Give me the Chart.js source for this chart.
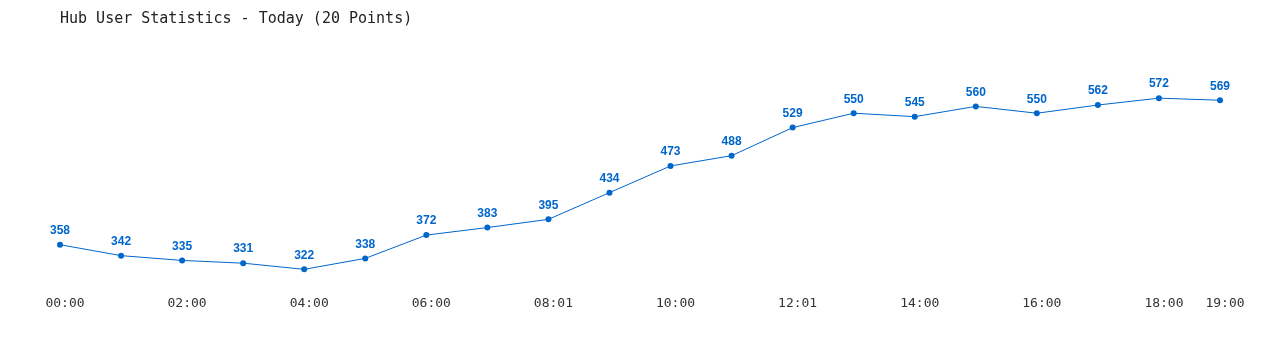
<!DOCTYPE html>
<html>
<head>
<meta charset="utf-8">
<script src="https://cdn.jsdelivr.net/npm/chart.js@4/dist/chart.umd.min.js"></script>
<style>
html,body{margin:0;padding:0;background:#fff;}
#wrap{width:1280px;height:350px;position:relative;}
</style>
</head>
<body>
<div id="wrap"><canvas id="c" width="1280" height="350"></canvas></div>
<script>
const titleText = 'Hub User Statistics - Today (20 Points)';
const categories = ['00:00','01:00','02:00','03:00','04:00','05:00','06:00','07:00','08:01','09:00',
                    '10:00','11:00','12:01','13:00','14:00','15:00','16:00','17:00','18:00','19:00'];
const users = [358,342,335,331,322,338,372,383,395,434,473,488,529,550,545,560,550,562,572,569];

const lineColor = '#0066CC';

const valueLabels = {
  id: 'valueLabels',
  afterDatasetsDraw(chart) {
    const ctx = chart.ctx;
    const meta = chart.getDatasetMeta(0);
    ctx.save();
    ctx.font = 'bold 12px "Liberation Sans", Arial, sans-serif';
    ctx.fillStyle = lineColor;
    ctx.textAlign = 'center';
    ctx.textBaseline = 'middle';
    meta.data.forEach((pt, i) => {
      ctx.fillText(String(chart.data.datasets[0].data[i]), pt.x, pt.y - 14);
    });
    ctx.restore();
  }
};

new Chart(document.getElementById('c'), {
  type: 'line',
  data: {
    labels: categories,
    datasets: [{
      data: users,
      borderColor: lineColor,
      backgroundColor: lineColor,
      borderWidth: 1,
      pointRadius: 3,
      pointBackgroundColor: lineColor,
      pointBorderColor: lineColor,
      pointBorderWidth: 0,
      tension: 0,
      fill: false
    }]
  },
  options: {
    responsive: false,
    animation: false,
    devicePixelRatio: 1,
    layout: { padding: { left: 60, right: 60, top: 0, bottom: 28 } },
    plugins: {
      legend: { display: false },
      tooltip: { enabled: false },
      title: {
        display: true,
        text: titleText,
        align: 'start',
        color: '#222',
        font: { family: '"DejaVu Sans Mono", "Liberation Mono", monospace', size: 15, weight: 'normal' },
        padding: { top: 10, bottom: 51 }
      }
    },
    scales: {
      x: {
        offset: false,
        grid: { display: false, drawTicks: false },
        border: { display: false },
        ticks: {
          autoSkip: false,
          maxRotation: 0,
          padding: 11,
          labelOffset: 5,
          color: '#333',
          font: { family: '"DejaVu Sans Mono", "Liberation Mono", monospace', size: 13 },
          callback: function(v, i) {
            return (i % 2 === 0 || i === categories.length - 1) ? categories[i] : '';
          }
        }
      },
      y: {
        display: false,
        min: 300,
        max: 600
      }
    }
  },
  plugins: [valueLabels]
});
</script>
</body>
</html>
